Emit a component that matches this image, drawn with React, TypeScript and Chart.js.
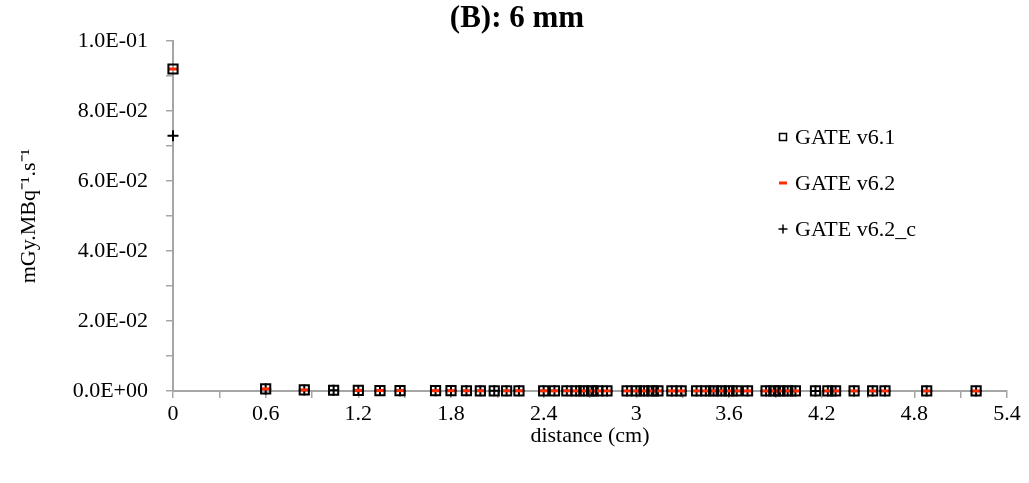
import React, { useEffect, useRef } from 'react';
import { Chart, registerables } from 'chart.js';

Chart.register(...registerables);

// ---- data ----
const chartTitle = '(B): 6 mm';
const xAxisTitle = 'distance (cm)';
const yAxisTitle = 'mGy.MBq\u207B\u00B9.s\u207B\u00B9';
const seriesLabels = ['GATE v6.1', 'GATE v6.2', 'GATE v6.2_c'];

const distanceAll = [
  0, 0.6, 0.85, 1.04, 1.2, 1.34, 1.47, 1.7, 1.8, 1.9, 1.99, 2.08, 2.16, 2.24,
  2.4, 2.47, 2.55, 2.61, 2.66, 2.71, 2.75, 2.81, 2.94, 3.0, 3.05, 3.1, 3.14,
  3.23, 3.29, 3.39, 3.45, 3.5, 3.55, 3.6, 3.65, 3.72, 3.84, 3.89, 3.93, 3.98,
  4.03, 4.16, 4.24, 4.29, 4.41, 4.53, 4.61, 4.88, 5.2,
];
const doseV61 = [
  0.092, 0.00062, 0.00031, 0.00022, 0.00017, 0.00013, 0.00011, 0.00009, 0.00008, 0.00007, 0.00006, 0.00006, 0.00005, 0.00005,
  0.00004, 0.00004, 0.00004, 0.00003, 0.00003, 0.00003, 0.00003, 0.00003, 0.00003, 0.00002, 0.00002, 0.00002, 0.00002,
  0.00002, 0.00002, 0.00002, 0.00002, 0.00002, 0.00002, 0.00002, 0.00002, 0.00001, 0.00001, 0.00001, 0.00001, 0.00001,
  0.00001, 0.00001, 0.00001, 0.00001, 0.00001, 0.00001, 0.00001, 0.00001, 0.00001,
];
const distanceV62 = [
  0, 0.6, 0.85, 1.2, 1.34, 1.47, 1.7, 1.8, 1.9, 1.99, 2.16, 2.24,
  2.4, 2.47, 2.55, 2.61, 2.66, 2.71, 2.75, 2.81, 2.94, 3.0, 3.05, 3.1, 3.14,
  3.23, 3.29, 3.39, 3.45, 3.5, 3.55, 3.6, 3.65, 3.72, 3.84, 3.89, 3.93, 3.98,
  4.03, 4.24, 4.29, 4.41, 4.53, 4.61, 4.88, 5.2,
];
const doseV62 = [
  0.092, 0.00061, 0.00031, 0.00017, 0.00013, 0.00011, 0.00009, 0.00008, 0.00007, 0.00006, 0.00005, 0.00005,
  0.00004, 0.00004, 0.00004, 0.00003, 0.00003, 0.00003, 0.00003, 0.00003, 0.00003, 0.00002, 0.00002, 0.00002, 0.00002,
  0.00002, 0.00002, 0.00002, 0.00002, 0.00002, 0.00002, 0.00002, 0.00002, 0.00001, 0.00001, 0.00001, 0.00001, 0.00001,
  0.00001, 0.00001, 0.00001, 0.00001, 0.00001, 0.00001, 0.00001, 0.00001,
];
const doseV62c = [
  0.0729, 0.00058, 0.0003, 0.00021, 0.00016, 0.00012, 0.0001, 0.00009, 0.00008, 0.00007, 0.00006, 0.00006, 0.00005, 0.00005,
  0.00004, 0.00004, 0.00004, 0.00003, 0.00003, 0.00003, 0.00003, 0.00003, 0.00003, 0.00002, 0.00002, 0.00002, 0.00002,
  0.00002, 0.00002, 0.00002, 0.00002, 0.00002, 0.00002, 0.00002, 0.00002, 0.00001, 0.00001, 0.00001, 0.00001, 0.00001,
  0.00001, 0.00001, 0.00001, 0.00001, 0.00001, 0.00001, 0.00001, 0.00001, 0.00001,
];

const xTickValues = [0, 0.3, 0.6, 0.9, 1.2, 1.5, 1.8, 2.1, 2.4, 2.7, 3.0, 3.3, 3.6, 3.9, 4.2, 4.5, 4.8, 5.1, 5.4];
const xTickLabels = ['0', '', '0.6', '', '1.2', '', '1.8', '', '2.4', '', '3', '', '3.6', '', '4.2', '', '4.8', '', '5.4'];
const yTickValues = [0, 0.01, 0.02, 0.03, 0.04, 0.05, 0.06, 0.07, 0.08, 0.09, 0.1];
const yTickLabels = ['0.0E+00', '', '2.0E-02', '', '4.0E-02', '', '6.0E-02', '', '8.0E-02', '', '1.0E-01'];

// ---- styles ----
const FONT = "'Liberation Serif', 'Times New Roman', serif";
const AXIS_GREY = '#a6a6a6';
const RED = '#ff2a00';
const TICK_SIZE = 22;

const toPoints = (xs: number[], ys: number[]) => xs.map((x, i) => ({ x, y: ys[i] }));

const overlayPlugin = {
  id: 'overlay',
  afterDraw(chart: any) {
    const ctx = chart.ctx as CanvasRenderingContext2D;
    ctx.save();
    // title
    ctx.font = `bold 31px ${FONT}`;
    ctx.fillStyle = '#000';
    ctx.textAlign = 'center';
    ctx.textBaseline = 'middle';
    ctx.fillText(chartTitle, 517, 19);

    // legend
    const mx = 783;
    const tx = 795;
    const rows = [137, 183, 229];
    ctx.font = `${TICK_SIZE}px ${FONT}`;
    ctx.textBaseline = 'middle';
    ctx.textAlign = 'left';
    rows.forEach((y, i) => {
      ctx.beginPath();
      if (i === 0) {
        ctx.strokeStyle = '#000';
        ctx.lineWidth = 1.5;
        ctx.strokeRect(mx - 3.5, y - 3.5, 7, 7);
      } else if (i === 1) {
        ctx.strokeStyle = RED;
        ctx.lineWidth = 3;
        ctx.moveTo(mx - 4, y);
        ctx.lineTo(mx + 4, y);
        ctx.stroke();
      } else {
        ctx.strokeStyle = '#000';
        ctx.lineWidth = 1.5;
        ctx.moveTo(mx - 4.5, y);
        ctx.lineTo(mx + 4.5, y);
        ctx.moveTo(mx, y - 4.5);
        ctx.lineTo(mx, y + 4.5);
        ctx.stroke();
      }
      ctx.fillText(seriesLabels[i], tx, y + 1);
    });
    ctx.restore();
  },
};

export default function App() {
  const canvasRef = useRef<HTMLCanvasElement | null>(null);

  useEffect(() => {
    document.body.style.margin = '0';
    const canvas = canvasRef.current;
    if (!canvas) return;
    const chart = new Chart(canvas, {
      type: 'scatter',
      data: {
        datasets: [
          {
            label: seriesLabels[0],
            data: toPoints(distanceAll, doseV61),
            pointStyle: 'rect',
            pointRadius: 6.5,
            borderColor: '#000',
            borderWidth: 2,
            backgroundColor: 'rgba(255,255,255,0)',
            showLine: false,
          },
          {
            label: seriesLabels[1],
            data: toPoints(distanceV62, doseV62),
            pointStyle: 'line',
            pointRadius: 5,
            borderColor: RED,
            borderWidth: 3,
            backgroundColor: RED,
            showLine: false,
          },
          {
            label: seriesLabels[2],
            data: toPoints(distanceAll, doseV62c),
            pointStyle: 'cross',
            pointRadius: 5.5,
            borderColor: '#000',
            borderWidth: 2,
            backgroundColor: '#000',
            showLine: false,
          },
        ],
      },
      options: {
        responsive: false,
        devicePixelRatio: 1,
        animation: false,
        clip: false as any,
        layout: { padding: { left: 0, right: 22, top: 41, bottom: 0 } },
        plugins: {
          legend: { display: false },
          tooltip: { enabled: false },
          title: { display: false },
        },
        scales: {
          x: {
            type: 'linear',
            min: 0,
            max: 5.4,
            afterBuildTicks: (s: any) => {
              s.ticks = xTickValues.map((v) => ({ value: v }));
            },
            afterFit: (s: any) => {
              s.height = 92;
            },
            ticks: {
              autoSkip: false,
              maxRotation: 0,
              color: '#000',
              padding: 3,
              font: { family: FONT, size: TICK_SIZE },
              callback: (_v: any, i: number) => xTickLabels[i],
            },
            grid: {
              drawOnChartArea: false,
              drawTicks: true,
              tickLength: 7,
              color: AXIS_GREY,
              lineWidth: 1.5,
            },
            border: { display: true, color: AXIS_GREY, width: 2 },
            title: {
              display: true,
              text: xAxisTitle,
              color: '#000',
              font: { family: FONT, size: TICK_SIZE },
              padding: { top: 0, bottom: 34 },
            },
          },
          y: {
            type: 'linear',
            min: 0,
            max: 0.1,
            afterBuildTicks: (s: any) => {
              s.ticks = yTickValues.map((v) => ({ value: v }));
            },
            afterFit: (s: any) => {
              s.width = 173;
            },
            ticks: {
              autoSkip: false,
              color: '#000',
              padding: 18,
              font: { family: FONT, size: TICK_SIZE },
              callback: (_v: any, i: number) => yTickLabels[i],
            },
            grid: {
              drawOnChartArea: false,
              drawTicks: true,
              tickLength: 7,
              color: AXIS_GREY,
              lineWidth: 1.5,
            },
            border: { display: true, color: AXIS_GREY, width: 2 },
            title: {
              display: true,
              text: yAxisTitle,
              color: '#000',
              font: { family: FONT, size: TICK_SIZE },
              padding: { top: 16, bottom: 0 },
            },
          },
        },
      },
      plugins: [overlayPlugin],
    });
    return () => chart.destroy();
  }, []);

  return (
    <div style={{ width: 1029, height: 483 }}>
      <canvas ref={canvasRef} width={1029} height={483} style={{ display: 'block' }} />
    </div>
  );
}
